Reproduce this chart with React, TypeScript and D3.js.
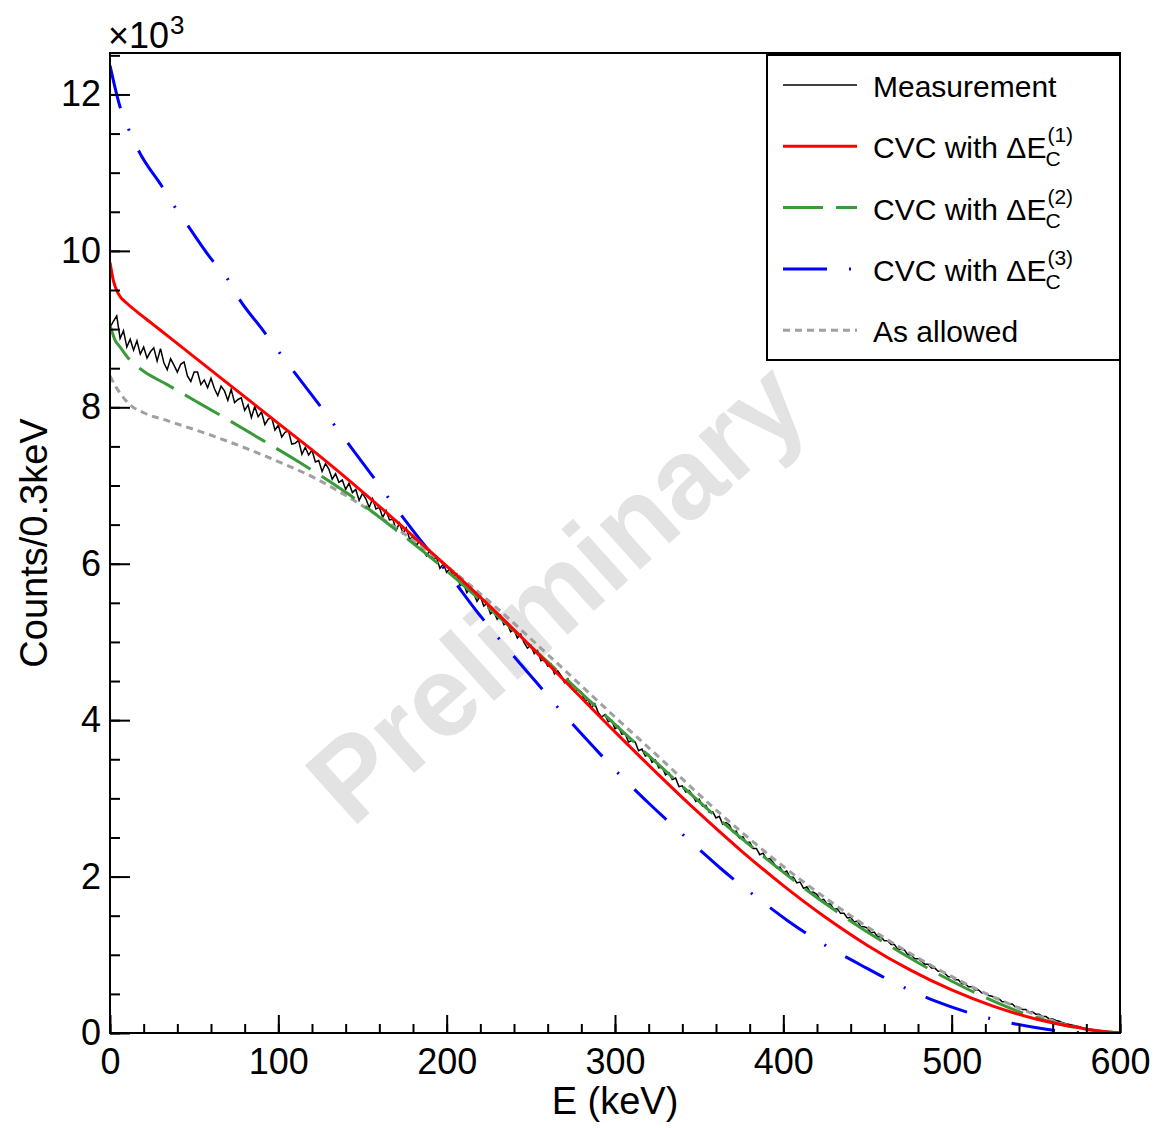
import React, { useEffect, useRef } from 'react'
import * as d3 from 'd3'

// measured spectrum, 2 keV steps starting at 0 keV (units of 10^3 counts)
const measStep = 2
const measurement = [
  9.02, 9.10, 9.17, 8.88, 8.98, 8.77, 8.87, 8.73, 8.85, 8.68,
  8.77, 8.63, 8.71, 8.76, 8.59, 8.75, 8.57, 8.48, 8.62, 8.54,
  8.45, 8.55, 8.58, 8.40, 8.33, 8.45, 8.45, 8.29, 8.35, 8.25,
  8.37, 8.24, 8.15, 8.27, 8.21, 8.09, 8.23, 8.06, 8.10, 8.12,
  7.96, 8.03, 7.87, 8.01, 7.88, 7.94, 7.78, 7.85, 7.87, 7.71,
  7.77, 7.62, 7.68, 7.70, 7.53, 7.54, 7.58, 7.40, 7.49, 7.39,
  7.45, 7.30, 7.32, 7.18, 7.28, 7.21, 7.08, 7.15, 7.04, 7.07,
  6.95, 7.03, 6.91, 6.95, 6.81, 6.90, 6.83, 6.72, 6.83, 6.70,
  6.72, 6.59, 6.68, 6.56, 6.57, 6.43, 6.52, 6.39, 6.46, 6.31,
  6.35, 6.23, 6.30, 6.17, 6.10, 6.17, 6.06, 6.08, 5.94, 6.00,
  5.89, 5.94, 5.83, 5.87, 5.72, 5.75, 5.63, 5.69, 5.62, 5.52,
  5.59, 5.46, 5.49, 5.36, 5.39, 5.29, 5.34, 5.22, 5.24, 5.13,
  5.16, 5.05, 5.10, 4.99, 4.92, 4.96, 4.85, 4.89, 4.76, 4.78,
  4.69, 4.72, 4.59, 4.63, 4.57, 4.48, 4.53, 4.42, 4.36, 4.39,
  4.36, 4.25, 4.26, 4.16, 4.21, 4.10, 4.04, 4.07, 3.98, 4.00,
  3.89, 3.92, 3.82, 3.83, 3.72, 3.74, 3.72, 3.61, 3.63, 3.54,
  3.56, 3.46, 3.49, 3.39, 3.40, 3.30, 3.33, 3.24, 3.26, 3.15,
  3.16, 3.08, 3.10, 3.04, 2.96, 2.99, 2.90, 2.91, 2.82, 2.83,
  2.75, 2.77, 2.67, 2.69, 2.66, 2.57, 2.58, 2.49, 2.51, 2.43,
  2.44, 2.36, 2.36, 2.28, 2.30, 2.22, 2.23, 2.18, 2.11, 2.12,
  2.05, 2.07, 1.99, 1.99, 1.92, 1.93, 1.85, 1.87, 1.80, 1.80,
  1.77, 1.70, 1.71, 1.65, 1.65, 1.58, 1.59, 1.53, 1.53, 1.47,
  1.48, 1.42, 1.43, 1.36, 1.36, 1.34, 1.28, 1.29, 1.23, 1.23,
  1.18, 1.18, 1.13, 1.13, 1.07, 1.07, 1.06, 1.00, 1.00, 0.95,
  0.95, 0.92, 0.88, 0.88, 0.83, 0.83, 0.79, 0.79, 0.76, 0.72,
  0.72, 0.68, 0.68, 0.63, 0.63, 0.59, 0.59, 0.55, 0.55, 0.51,
  0.51, 0.48, 0.47, 0.44, 0.44, 0.40, 0.40, 0.37, 0.37, 0.33,
  0.33, 0.30, 0.30, 0.27, 0.27, 0.24, 0.24, 0.21, 0.21, 0.18,
  0.18, 0.16, 0.15, 0.13, 0.12, 0.11, 0.10, 0.09, 0.08, 0.06,
  0.05, 0.05, 0.04, 0.03, 0.03, 0.02, 0.01, 0.01, 0.00, 0.00
]

// CVC with dEc(1)
const cvc1E = [0, 2, 5, 10, 15, 25, 35, 50, 75, 100, 125, 150, 175, 200, 225, 250, 275, 300, 325, 350, 375, 400, 425, 450, 475, 500, 525, 550, 575, 590, 600]
const cvc1Y = [9.85, 9.62, 9.45, 9.33, 9.24, 9.07, 8.90, 8.645, 8.22, 7.795, 7.37, 6.92, 6.45, 5.97, 5.47, 4.94, 4.395, 3.85, 3.32, 2.81, 2.33, 1.885, 1.48, 1.12, 0.81, 0.55, 0.34, 0.18, 0.07, 0.018, 0]

// CVC with dEc(2)
const cvc2E = [0, 3, 6, 12, 20, 34, 50, 63, 89, 113, 141, 164, 200, 230, 260, 295, 329, 351, 390, 430, 470, 509, 549, 575, 589, 600]
const cvc2Y = [9.05, 8.86, 8.77, 8.60, 8.46, 8.29, 8.09, 7.93, 7.60, 7.29, 6.90, 6.53, 5.91, 5.34, 4.746, 4.046, 3.37, 2.94, 2.226, 1.578, 1.026, 0.566, 0.206, 0.063, 0.021, 0]

// CVC with dEc(3)
const cvc3E = [0, 6, 11, 17, 31, 38, 46, 60, 69, 76, 91, 108, 123, 140, 155, 171, 186, 200, 219, 237, 253, 271, 288, 307, 319, 351, 363, 385, 403, 425, 446, 469, 490, 515, 538, 567, 585, 600]
const cvc3Y = [12.37, 11.84, 11.56, 11.28, 10.82, 10.58, 10.33, 9.90, 9.67, 9.41, 8.98, 8.49, 8.07, 7.58, 7.15, 6.68, 6.26, 5.90, 5.36, 4.89, 4.49, 4.04, 3.64, 3.21, 2.96, 2.33, 2.10, 1.72, 1.43, 1.12, 0.87, 0.61, 0.41, 0.23, 0.115, 0.02, 0, 0]

// allowed shape
const allowedE = [0, 3, 6, 12, 20, 34, 63, 93, 123, 153, 175, 200, 230, 264, 300, 330, 356, 400, 440, 489, 529, 569, 590, 600]
const allowedY = [8.40, 8.28, 8.18, 8.03, 7.93, 7.83, 7.62, 7.37, 7.08, 6.70, 6.38, 5.97, 5.43, 4.76, 4.04, 3.45, 2.93, 2.13, 1.50, 0.85, 0.42, 0.10, 0.015, 0]

const xTicks = [0, 100, 200, 300, 400, 500, 600]
const yTicks = [0, 2, 4, 6, 8, 10, 12]

const legendLabels = ['Measurement', 'CVC with \u0394E', 'CVC with \u0394E', 'CVC with \u0394E', 'As allowed']
const legendSup = ['', '(1)', '(2)', '(3)', '']

const App = () => {
  const svgRef = useRef<SVGSVGElement>(null)

  useEffect(() => {
    document.body.style.margin = '0'
    const W = 1158
    const H = 1128
    const left = 110, right = 1120, top = 53, bottom = 1033
    const font = "'Liberation Sans', Arial, Helvetica, sans-serif"

    const svg = d3.select(svgRef.current)
    svg.selectAll('*').remove()

    const x = d3.scaleLinear().domain([0, 600]).range([left, right])
    const y = d3.scaleLinear().domain([0, 12.53]).range([bottom, top])

    svg.append('rect').attr('width', W).attr('height', H).attr('fill', '#fff')

    svg.append('defs').append('clipPath').attr('id', 'plotclip')
      .append('rect')
      .attr('x', left).attr('y', top)
      .attr('width', right - left).attr('height', bottom - top)

    // watermark
    svg.append('text')
      .text('Preliminary')
      .attr('transform', 'translate(556,592) rotate(-42)')
      .attr('text-anchor', 'middle')
      .attr('dominant-baseline', 'central')
      .attr('font-family', font)
      .attr('font-weight', 'bold')
      .attr('font-size', 114)
      .attr('fill', '#e3e3e3')

    const plot = svg.append('g').attr('clip-path', 'url(#plotclip)')

    const line = d3.line<[number, number]>()
      .x(d => x(d[0]))
      .y(d => y(d[1]))

    const measPts: [number, number][] = measurement.map((v, i) => [i * measStep, v])
    plot.append('path')
      .attr('d', line(measPts))
      .attr('fill', 'none')
      .attr('stroke', '#000')
      .attr('stroke-width', 1.5)

    const series = [
      { E: cvc1E, Y: cvc1Y, color: '#ff0000', dash: null },
      { E: cvc2E, Y: cvc2Y, color: '#3a9a3a', dash: '40 13' },
      { E: cvc3E, Y: cvc3Y, color: '#0000ff', dash: '44 22 2 22' },
      { E: allowedE, Y: allowedY, color: '#a0a0a0', dash: '7 5' }
    ]
    const smooth = d3.line<[number, number]>()
      .x(d => x(d[0]))
      .y(d => y(d[1]))
      .curve(d3.curveMonotoneX)

    series.slice().reverse().forEach(s => {
      const pts: [number, number][] = s.E.map((e, i) => [e, s.Y[i]])
      plot.append('path')
        .attr('d', smooth(pts))
        .attr('fill', 'none')
        .attr('stroke', s.color)
        .attr('stroke-width', 3)
        .attr('stroke-dasharray', s.dash)
    })

    // axes (ROOT style, ticks inside)
    const xMinor = d3.range(0, 601, 20)
    const yMinor = d3.range(0, 12.51, 0.5)

    const gx = svg.append('g').attr('transform', `translate(0,${bottom})`)
    gx.call(d3.axisBottom(x).tickValues(xMinor).tickSize(-9).tickFormat(() => ''))
    gx.append('g').call(d3.axisBottom(x).tickValues(xTicks).tickSize(-18).tickPadding(15).tickFormat(d3.format('d')))
    const gy = svg.append('g').attr('transform', `translate(${left},0)`)
    gy.call(d3.axisLeft(y).tickValues(yMinor).tickSize(-10).tickFormat(() => ''))
    gy.append('g').call(d3.axisLeft(y).tickValues(yTicks).tickSize(-20).tickPadding(9).tickFormat(d3.format('d')))

    svg.selectAll('.domain').remove()
    svg.selectAll('.tick line').attr('stroke', '#000').attr('stroke-width', 2)
    svg.selectAll('.tick text')
      .attr('font-family', font)
      .attr('font-size', 36)
      .attr('fill', '#000')

    // frame
    svg.append('rect')
      .attr('x', left).attr('y', top)
      .attr('width', right - left).attr('height', bottom - top)
      .attr('fill', 'none').attr('stroke', '#000').attr('stroke-width', 2)

    // exponent label
    const expo = svg.append('text')
      .attr('x', left - 2).attr('y', 48)
      .attr('font-family', font).attr('font-size', 36)
      .text('\u00d710')
    const ew = (expo.node() as SVGTextElement).getComputedTextLength()
    svg.append('text')
      .attr('x', left - 1 + ew).attr('y', 34)
      .attr('font-family', font).attr('font-size', 26)
      .text('3')

    // axis titles
    svg.append('text')
      .attr('x', (left + right) / 2).attr('y', 1114)
      .attr('text-anchor', 'middle')
      .attr('font-family', font).attr('font-size', 38)
      .text('E (keV)')
    svg.append('text')
      .attr('transform', `translate(47,${(top + bottom) / 2}) rotate(-90)`)
      .attr('text-anchor', 'middle')
      .attr('font-family', font).attr('font-size', 38)
      .text('Counts/0.3keV')

    // legend
    svg.append('rect')
      .attr('x', 767).attr('y', 55)
      .attr('width', 1120 - 767).attr('height', 360 - 55)
      .attr('fill', '#fff').attr('stroke', '#000').attr('stroke-width', 2)

    const legendStyles = [
      { color: '#000', width: 1.5, dash: null },
      ...series.map(s => ({ color: s.color, width: 3, dash: s.dash }))
    ]
    legendLabels.forEach((lab, i) => {
      const ly = 85 + i * 61.3
      svg.append('line')
        .attr('x1', 783).attr('x2', 857)
        .attr('y1', ly).attr('y2', ly)
        .attr('stroke', legendStyles[i].color)
        .attr('stroke-width', legendStyles[i].width)
        .attr('stroke-dasharray', legendStyles[i].dash)
      const t = svg.append('text')
        .attr('x', 873).attr('y', ly + 12)
        .attr('font-family', font).attr('font-size', 30)
        .text(lab)
      if (legendSup[i]) {
        const w = (t.node() as SVGTextElement).getComputedTextLength()
        svg.append('text')
          .attr('x', 873 + w + 1).attr('y', ly - 4)
          .attr('font-family', font).attr('font-size', 21)
          .text(legendSup[i])
        svg.append('text')
          .attr('x', 873 + w - 1).attr('y', ly + 20)
          .attr('font-family', font).attr('font-size', 21)
          .text('C')
      }
    })
  }, [])

  return <svg ref={svgRef} width={1158} height={1128} style={{ display: 'block' }} />
}

export default App
